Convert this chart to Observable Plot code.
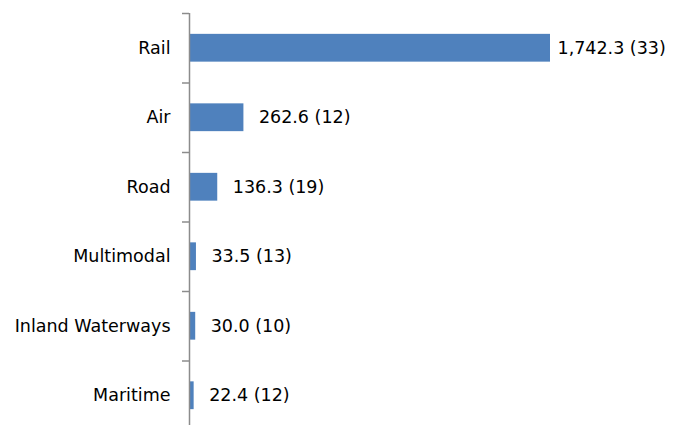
<!DOCTYPE html>
<html>
<head>
<meta charset="utf-8">
<script src="https://cdn.jsdelivr.net/npm/d3@7"></script>
<script src="https://cdn.jsdelivr.net/npm/@observablehq/plot@0.6"></script>
<style>
  html, body { margin: 0; padding: 0; background: #fff; overflow: hidden; }
</style>
</head>
<body>
<div id="chart"></div>
<script>
const categories = ["Rail", "Air", "Road", "Multimodal", "Inland Waterways", "Maritime"];
const values = [1742.3, 262.6, 136.3, 33.5, 30.0, 22.4];
const counts = [33, 12, 19, 13, 10, 12];

const fmt = d3.format(",.1f");
const data = categories.map((c, i) => ({
  i, category: c, value: values[i], count: counts[i],
  label: `${fmt(values[i])} (${counts[i]})`
}));
const big = d3.max(values);

const chart = Plot.plot({
  width: 681,
  height: 430,
  marginTop: 13,
  marginBottom: 0,
  marginLeft: 189,
  marginRight: 131,
  style: { fontFamily: "'DejaVu Sans', sans-serif", fontSize: "17.5px", color: "#000", background: "#fff" },
  x: { domain: [0, big], axis: null },
  y: { domain: [0, categories.length], reverse: true, axis: null },
  marks: [
    Plot.rectX(data, { x1: 0, x2: "value", y1: d => d.i + 0.3, y2: d => d.i + 0.7, fill: "#4f81bd" }),
    Plot.ruleX([0], { stroke: "#8c8c8c", strokeWidth: 1.5 }),
    Plot.axisY({ ticks: d3.range(categories.length + 1), tickFormat: () => "", tickSize: 7, stroke: "#8c8c8c", strokeWidth: 1.5, anchor: "left" }),
    Plot.text(data, { x: 0, y: d => d.i + 0.5, text: "category", textAnchor: "end", dx: -19, fill: "#000", fontSize: 17.5 }),
    Plot.text(data.filter(d => d.value === big), { x: "value", y: d => d.i + 0.5, text: "label", textAnchor: "start", dx: 7, fill: "#000", fontSize: 17.5 }),
    Plot.text(data.filter(d => d.value !== big), { x: "value", y: d => d.i + 0.5, text: "label", textAnchor: "start", dx: 15, fill: "#000", fontSize: 17.5 })
  ]
});
document.getElementById("chart").appendChild(chart);
</script>
</body>
</html>
